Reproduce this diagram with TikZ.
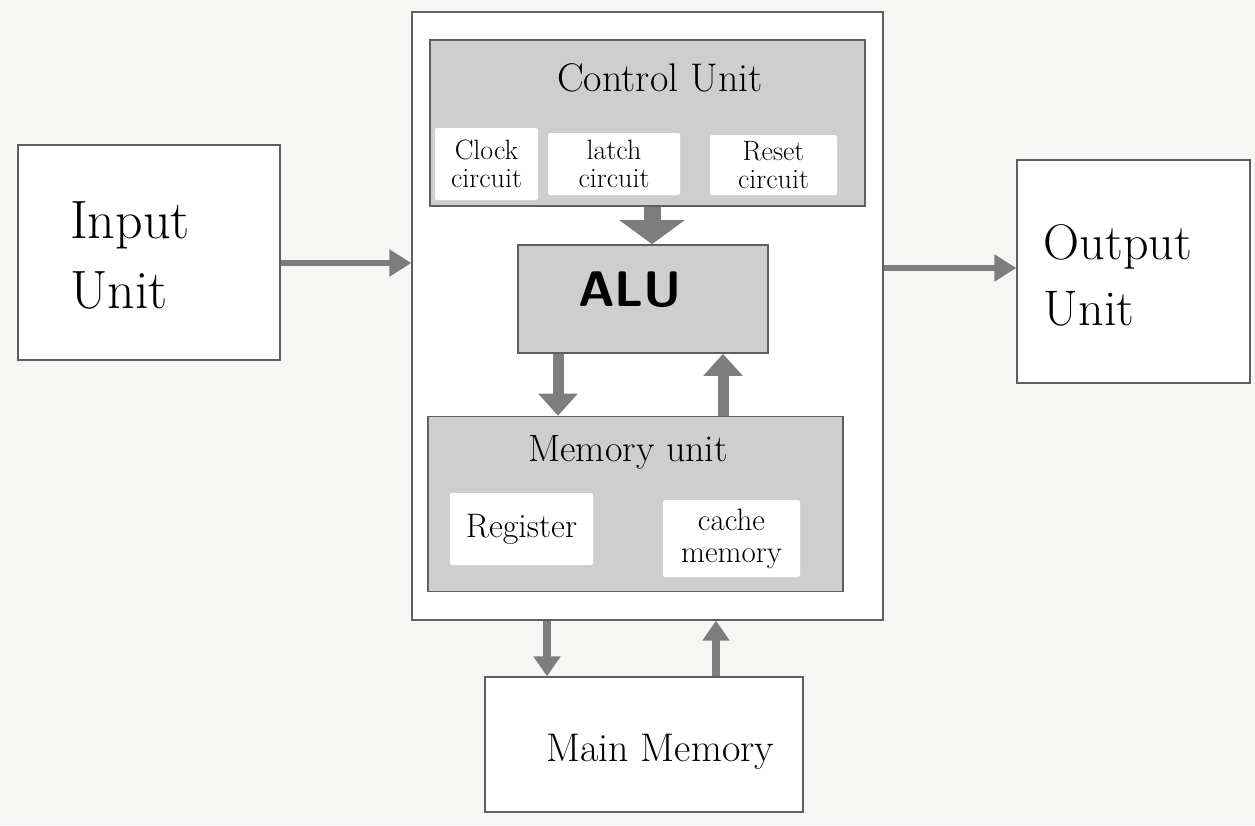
\documentclass[tikz,border=0pt]{standalone}
\usetikzlibrary{arrows.meta}
\definecolor{paper}{RGB}{246,246,245}
\definecolor{linec}{RGB}{95,95,95}
\definecolor{shadec}{RGB}{206,206,206}
\definecolor{arrc}{RGB}{125,125,125}
\begin{document}
\begin{tikzpicture}[x=1pt,y=-1pt]
\tikzset{
  box/.style={draw=linec, line width=1.3pt, fill=white, inner sep=0pt},
  shadebox/.style={draw=linec, line width=1.6pt, fill=shadec, inner sep=0pt},
  subbox/.style={fill=white, draw=none, rounded corners=2pt, inner sep=0pt, align=center, font=\fontsize{28}{28}\selectfont},
  lbl/.style={inner sep=0pt, align=center},
  arr/.style={draw=arrc, line width=6pt, -{Triangle[width=26pt,length=22pt]}},
  varr/.style={draw=arrc, line width=11pt, -{Triangle[width=38pt,length=22pt]}},
  wvarr/.style={draw=arrc, line width=17pt, -{Triangle[width=64pt,length=24pt]}},
  marr/.style={draw=arrc, line width=8pt, -{Triangle[width=26pt,length=20pt]}}
}
\useasboundingbox (0,0) rectangle (1255,825);
\fill[paper] (0,0) rectangle (1255,825);

% outer units
\node[box, minimum width=262pt, minimum height=215pt] (in) at (149,252.5) {};
\node[lbl, align=left, font=\fontsize{54}{70}\selectfont] (inl) at (130,255) {Input\\Unit};
\node[box, minimum width=233pt, minimum height=223pt] (out) at (1133.5,271.5) {};
\node[lbl, align=left, font=\fontsize{50}{66}\selectfont] (outl) at (1118,275) {Output\\Unit};
\node[box, minimum width=318pt, minimum height=135pt] (mm) at (644,744.5) {};
\node[lbl, font=\fontsize{40}{44}\selectfont] (mml) at (660,752) {Main Memory};

% CPU
\node[box, minimum width=471pt, minimum height=608pt] (cpu) at (647.5,316) {};

% control unit
\node[shadebox, minimum width=435pt, minimum height=166pt] (cu) at (647.5,123) {};
\node[lbl, font=\fontsize{40}{42}\selectfont] (cul) at (660,78) {Control Unit};
\node[subbox, minimum width=103pt, minimum height=72pt] (clk) at (486.5,164) {Clock\\circuit};
\node[subbox, minimum width=132pt, minimum height=62pt] (lat) at (614,164) {latch\\circuit};
\node[subbox, minimum width=127pt, minimum height=60pt] (rst) at (773.5,165) {Reset\\circuit};

% ALU
\node[shadebox, minimum width=250pt, minimum height=108pt] (alu) at (643,299) {};
\node[lbl, font=\sffamily\bfseries\fontsize{50}{52}\selectfont] (alul) at (630,290) {ALU};

% memory unit
\node[shadebox, minimum width=415pt, minimum height=175pt] (mem) at (635.5,504) {};
\node[lbl, font=\fontsize{38}{40}\selectfont] (meml) at (628,452) {Memory unit};
\node[subbox, minimum width=143pt, minimum height=72pt, font=\fontsize{34}{36}\selectfont] (reg) at (521.5,529) {Register};
\node[subbox, minimum width=137pt, minimum height=77pt, font=\fontsize{31}{32}\selectfont] (cac) at (731.5,538.5) {cache\\memory};

% connectors
\draw[arr] (in.east |- 0,263) -- (cpu.west |- 0,263);
\draw[arr] (cpu.east |- 0,268) -- (out.west |- 0,268);
\draw[wvarr] (cu.south -| 652,0) -- (alu.north -| 652,0);
\draw[varr] (alu.south -| 558,0) -- (mem.north -| 558,0);
\draw[varr] (mem.north -| 723,0) -- (alu.south -| 723,0);
\draw[marr] (cpu.south -| 547,0) -- (mm.north -| 547,0);
\draw[marr] (mm.north -| 716,0) -- (cpu.south -| 716,0);
\end{tikzpicture}
\end{document}
